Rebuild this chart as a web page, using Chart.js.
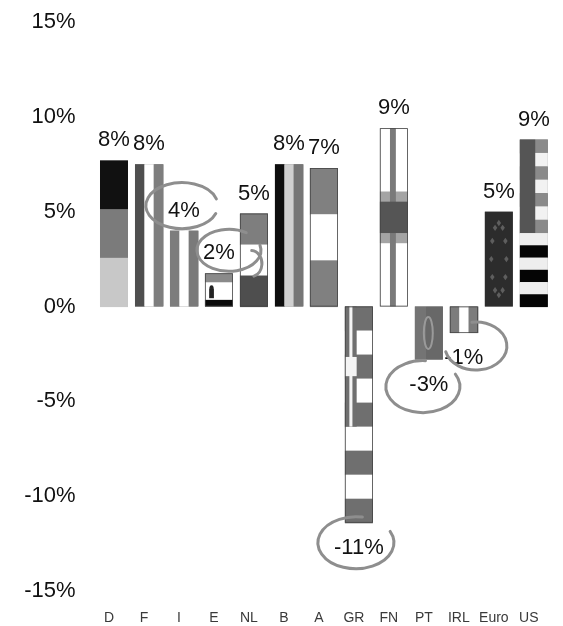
<!DOCTYPE html>
<html>
<head>
<meta charset="utf-8">
<script src="https://cdn.jsdelivr.net/npm/chart.js@4/dist/chart.umd.min.js"></script>
<style>
  html, body { margin: 0; padding: 0; background: #ffffff; }
  canvas { display: block; }
</style>
</head>
<body>
<canvas id="chart" width="563" height="626"></canvas>
<script>
// Growth by country, in percent
const categories = ['D', 'F', 'I', 'E', 'NL', 'B', 'A', 'GR', 'FN', 'PT', 'IRL', 'Euro', 'US'];
const growth = [7.7, 7.5, 4.0, 1.75, 4.9, 7.5, 7.3, -11.4, 9.4, -2.8, -1.4, 5.0, 8.8];
const tickValues = [-15, -10, -5, 0, 5, 10, 15];

const FONT = '"Liberation Sans", Arial, Helvetica, sans-serif';

// ---- flag painters (grey-scale), each fills the rectangle of one bar ----
function hStripes(ctx, r, colors) {
  const n = colors.length;
  colors.forEach((c, i) => {
    ctx.fillStyle = c;
    ctx.fillRect(r.l, r.t + r.h * i / n, r.w, r.h / n + 0.6);
  });
}
function vStripes(ctx, r, colors) {
  const n = colors.length;
  colors.forEach((c, i) => {
    ctx.fillStyle = c;
    ctx.fillRect(r.l + r.w * i / n, r.t, r.w / n + 0.6, r.h);
  });
}
function diamond(ctx, x, y, s) {
  ctx.beginPath();
  ctx.moveTo(x, y - s); ctx.lineTo(x + s * 0.7, y); ctx.lineTo(x, y + s); ctx.lineTo(x - s * 0.7, y);
  ctx.closePath(); ctx.fill();
}

const flags = {
  D: (ctx, r) => hStripes(ctx, r, ['#111111', '#7b7b7b', '#c8c8c8']),
  F: (ctx, r) => vStripes(ctx, r, ['#4f4f4f', '#ffffff', '#7e7e7e']),
  I: (ctx, r) => vStripes(ctx, r, ['#7d7d7d', '#ffffff', '#7a7a7a']),
  E: (ctx, r) => {
    ctx.fillStyle = '#ffffff'; ctx.fillRect(r.l, r.t, r.w, r.h);
    ctx.fillStyle = '#8a8a8a'; ctx.fillRect(r.l, r.t, r.w, r.h * 0.27);
    ctx.fillStyle = '#0a0a0a'; ctx.fillRect(r.l, r.t + r.h * 0.8, r.w, r.h * 0.2);
    ctx.fillStyle = '#222222';
    ctx.fillRect(r.l + r.w * 0.15, r.t + r.h * 0.45, r.w * 0.17, r.h * 0.3);
    ctx.beginPath();
    ctx.arc(r.l + r.w * 0.235, r.t + r.h * 0.42, r.w * 0.07, 0, Math.PI * 2);
    ctx.fill();
  },
  NL: (ctx, r) => hStripes(ctx, r, ['#7e7e7e', '#ffffff', '#4e4e4e']),
  B: (ctx, r) => vStripes(ctx, r, ['#0e0e0e', '#d0d0d0', '#767676']),
  A: (ctx, r) => hStripes(ctx, r, ['#808080', '#ffffff', '#808080']),
  GR: (ctx, r) => {
    const n = 9;
    for (let i = 0; i < n; i++) {
      ctx.fillStyle = i % 2 === 0 ? '#6f6f6f' : '#ffffff';
      ctx.fillRect(r.l, r.t + r.h * i / n, r.w, r.h / n + 0.6);
    }
    const cw = r.w * 0.42, ch = r.h * 5 / n;
    ctx.fillStyle = '#6f6f6f';
    ctx.fillRect(r.l, r.t, cw, ch);
    ctx.fillStyle = '#f4f4f4';
    ctx.fillRect(r.l + cw * 0.38, r.t, cw * 0.26, ch);
    ctx.fillRect(r.l, r.t + ch * 0.42, cw, ch * 0.16);
  },
  FN: (ctx, r) => {
    ctx.fillStyle = '#ffffff'; ctx.fillRect(r.l, r.t, r.w, r.h);
    const cy = r.t + r.h * 0.5;
    ctx.fillStyle = '#a4a4a4'; ctx.fillRect(r.l, cy - r.h * 0.145, r.w, r.h * 0.29);
    ctx.fillStyle = '#7a7a7a'; ctx.fillRect(r.l + r.w * 0.36, r.t, r.w * 0.21, r.h);
    ctx.fillStyle = '#555555'; ctx.fillRect(r.l, cy - r.h * 0.088, r.w, r.h * 0.176);
  },
  PT: (ctx, r) => {
    ctx.fillStyle = '#747474'; ctx.fillRect(r.l, r.t, r.w * 0.4, r.h);
    ctx.fillStyle = '#686868'; ctx.fillRect(r.l + r.w * 0.4, r.t, r.w * 0.6, r.h);
    ctx.strokeStyle = '#9a9a9a'; ctx.lineWidth = 2;
    ctx.beginPath();
    ctx.ellipse(r.l + r.w * 0.48, r.t + r.h * 0.5, r.w * 0.16, r.h * 0.3, 0, 0, Math.PI * 2);
    ctx.stroke();
  },
  IRL: (ctx, r) => vStripes(ctx, r, ['#7c7c7c', '#ffffff', '#7c7c7c']),
  Euro: (ctx, r) => {
    ctx.fillStyle = '#2c2c2c'; ctx.fillRect(r.l, r.t, r.w, r.h);
    ctx.fillStyle = '#5e5e5e';
    const cx = r.l + r.w / 2, cy = r.t + r.h / 2;
    for (let k = 0; k < 12; k++) {
      const a = k * Math.PI / 6;
      diamond(ctx, cx + Math.cos(a) * r.w * 0.27, cy + Math.sin(a) * r.h * 0.38, 3.2);
    }
  },
  US: (ctx, r) => {
    const topH = r.h * 0.56;
    for (let i = 0; i < 7; i++) {
      ctx.fillStyle = i % 2 === 0 ? '#8a8a8a' : '#f2f2f2';
      ctx.fillRect(r.l, r.t + topH * i / 7, r.w, topH / 7 + 0.6);
    }
    ctx.fillStyle = '#555555'; ctx.fillRect(r.l, r.t, r.w * 0.55, topH);
    const botH = r.h - topH;
    for (let i = 0; i < 6; i++) {
      ctx.fillStyle = i % 2 === 0 ? '#eeeeee' : '#050505';
      ctx.fillRect(r.l, r.t + topH + botH * i / 6, r.w, botH / 6 + 0.6);
    }
  }
};
const outlined = ['E', 'NL', 'A', 'GR', 'FN', 'IRL'];

function barRect(el) {
  const p = el.getProps(['x', 'y', 'base', 'width'], true);
  const t = Math.min(p.y, p.base), b = Math.max(p.y, p.base);
  return { l: p.x - p.width / 2, t: t, w: p.width, h: b - t, x: p.x, y: p.y };
}

const flagPlugin = {
  id: 'flagBars',
  afterDatasetsDraw(chart) {
    const ctx = chart.ctx;
    const meta = chart.getDatasetMeta(0);
    meta.data.forEach((el, i) => {
      const r = barRect(el);
      const paint = flags[categories[i]];
      ctx.save();
      if (paint) paint(ctx, r);
      if (outlined.includes(categories[i])) {
        ctx.strokeStyle = '#444444'; ctx.lineWidth = 0.8;
        ctx.strokeRect(r.l + 0.4, r.t + 0.4, r.w - 0.8, r.h - 0.8);
      }
      ctx.restore();
    });
  }
};

// value labels above positive bars, below negative ones
const valueLabelPlugin = {
  id: 'valueLabels',
  afterDatasetsDraw(chart) {
    const ctx = chart.ctx;
    const meta = chart.getDatasetMeta(0);
    ctx.save();
    ctx.font = '22px ' + FONT;
    ctx.fillStyle = '#111111';
    ctx.textAlign = 'center';
    ctx.textBaseline = 'alphabetic';
    meta.data.forEach((el, i) => {
      const v = growth[i];
      const text = Math.round(v) + '%';
      const p = el.getProps(['x', 'y'], true);
      ctx.fillText(text, p.x, v >= 0 ? p.y - 14 : p.y + 31);
    });
    ctx.restore();
  }
};

// grey hand-drawn loops around some of the value labels
const loops = [
  { bar: 2, dx: -2,  dy: -25, rx: 36, ry: 23, a0: 0.35,  a1: Math.PI * 2 - 0.3 },
  { bar: 3, dx: 10,  dy: -23, rx: 32, ry: 21, a0: -0.25, a1: Math.PI * 2 - 1.0 },
  { bar: 4, dx: -3,  dy: 50,  rx: 11, ry: 13, a0: -1.5,  a1: 1.3 },
  { bar: 7, dx: -3,  dy: 20,  rx: 38, ry: 26, a0: -0.45, a1: Math.PI * 2 - 1.4 },
  { bar: 9, dx: -6,  dy: 27,  rx: 37, ry: 26, a0: -0.5,  a1: Math.PI * 2 - 1.5 },
  { bar: 10, dx: 12, dy: 13,  rx: 31, ry: 24, a0: -1.7,  a1: 2.9 }
];
const loopPlugin = {
  id: 'labelLoops',
  afterDatasetsDraw(chart) {
    const ctx = chart.ctx;
    const meta = chart.getDatasetMeta(0);
    ctx.save();
    ctx.strokeStyle = '#8e8e8e';
    ctx.lineWidth = 3;
    ctx.lineCap = 'round';
    loops.forEach(o => {
      const p = meta.data[o.bar].getProps(['x', 'y'], true);
      ctx.beginPath();
      ctx.ellipse(p.x + o.dx, p.y + o.dy, o.rx, o.ry, 0, o.a0, o.a1);
      ctx.stroke();
    });
    ctx.restore();
  }
};

new Chart(document.getElementById('chart'), {
  type: 'bar',
  data: {
    labels: categories,
    datasets: [{
      data: growth,
      backgroundColor: '#7a7a7a',
      borderWidth: 0,
      barPercentage: 0.8,
      categoryPercentage: 1.0
    }]
  },
  options: {
    responsive: false,
    animation: false,
    devicePixelRatio: 1,
    layout: { padding: { left: 0, top: 22, right: 11.5, bottom: 0 } },
    plugins: {
      legend: { display: false },
      tooltip: { enabled: false },
      title: { display: false }
    },
    scales: {
      x: {
        grid: { display: false, drawTicks: false },
        border: { display: false },
        ticks: {
          font: { family: FONT, size: 14 },
          color: '#3a3a3a',
          padding: 19,
          labelOffset: -5,
          maxRotation: 0,
          autoSkip: false
        },
        afterFit(scale) { scale.height = 35; }
      },
      y: {
        min: tickValues[0],
        max: tickValues[tickValues.length - 1],
        grid: { display: false, drawTicks: false },
        border: { display: false },
        afterBuildTicks(scale) { scale.ticks = tickValues.map(v => ({ value: v })); },
        ticks: {
          font: { family: FONT, size: 22 },
          color: '#111111',
          padding: 21,
          callback: v => v + '%'
        },
        afterFit(scale) {
          scale.width = 96.5;
          scale.paddingTop = 0;
          scale.paddingBottom = 0;
        }
      }
    }
  },
  plugins: [flagPlugin, valueLabelPlugin, loopPlugin]
});
</script>
</body>
</html>
